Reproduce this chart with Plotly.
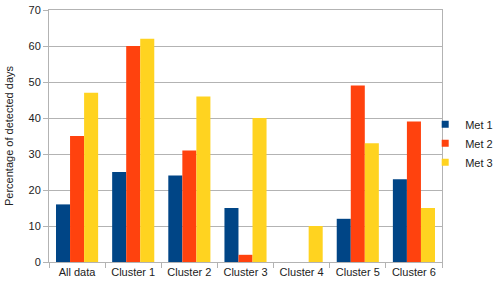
import plotly.graph_objects as go

categories = ["All data", "Cluster 1", "Cluster 2", "Cluster 3", "Cluster 4", "Cluster 5", "Cluster 6"]
met1 = [16, 25, 24, 15, 0, 12, 23]
met2 = [35, 60, 31, 2, 0, 49, 39]
met3 = [47, 62, 46, 40, 10, 33, 15]
y_ticks = [0, 10, 20, 30, 40, 50, 60, 70]

colors = ["#004586", "#ff420e", "#ffd320"]
names = ["Met 1", "Met 2", "Met 3"]

fig = go.Figure()
for name, vals, c in zip(names, [met1, met2, met3], colors):
    fig.add_trace(go.Bar(x=categories, y=vals, name=name, showlegend=False,
                         marker=dict(color=c, line=dict(width=0))))
for name, c in zip(names, colors):
    fig.add_trace(go.Scatter(x=[None], y=[None], mode="markers", name=name,
                             marker=dict(symbol="square", size=7, color=c)))

fig.update_layout(
    width=500, height=284,
    margin=dict(l=49, r=58, t=10, b=22, autoexpand=False),
    paper_bgcolor="white", plot_bgcolor="white",
    barmode="group", bargap=0.25, bargroupgap=0,
    font=dict(family="Liberation Sans, Arial, sans-serif", size=11, color="#222222"),
    showlegend=True,
    legend=dict(x=1.143, y=0.471, xanchor="right", yanchor="middle",
                font=dict(size=11), itemwidth=30, tracegroupgap=0,
                bgcolor="rgba(0,0,0,0)"),
    xaxis=dict(type="category", tickson="boundaries", ticks="outside", ticklen=5,
               tickcolor="#b3b3b3", showline=True, linecolor="#b3b3b3", mirror=True,
               showgrid=False, tickfont=dict(size=11), tickangle=0, automargin=False),
    yaxis=dict(range=[0, 70], tickvals=y_ticks, ticks="outside", ticklen=5,
               tickcolor="#b3b3b3", showline=True, linecolor="#b3b3b3", mirror=True,
               showgrid=True, gridcolor="#b3b3b3", gridwidth=1, zeroline=False,
               tickfont=dict(size=11), automargin=False,
               title=dict(text="Percentage of detected days", font=dict(size=11), standoff=12)),
)

fig.write_html("out.html", config={"displayModeBar": False},
               post_script="document.body.style.margin='0';")
